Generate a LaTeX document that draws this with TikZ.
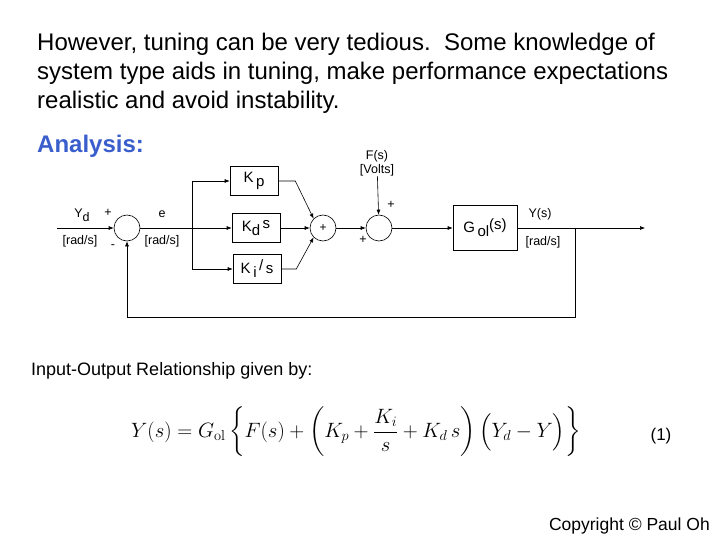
\documentclass[tikz,border=0pt]{standalone}
\usepackage{amsmath}
\usepackage[no-math]{fontspec}
\setmainfont{Liberation Sans}
\usetikzlibrary{arrows.meta, calc}
\definecolor{headblue}{HTML}{3A5FCD}
\newcommand{\lowsub}[1]{\raisebox{-4pt}{#1}}
\newcommand{\highsup}[1]{\raisebox{3pt}{#1}}

\begin{document}
\begin{tikzpicture}[
    x=1pt, y=-1pt,
    >=Latex,
    block/.style={draw, line width=0.6pt, minimum width=48pt, minimum height=29pt,
        inner sep=0pt, font=\fontsize{15}{17}\selectfont},
    sumjct/.style={draw, circle, line width=0.6pt, minimum size=26pt, inner sep=0pt,
        font=\fontsize{12}{14}\selectfont},
    sig/.style={line width=0.6pt, -{Latex[length=5pt, width=4pt]}},
    wire/.style={line width=0.6pt},
    lbl/.style={font=\fontsize{12.5}{14}\selectfont, inner sep=0pt},
    bodytext/.style={font=\fontsize{24}{28}\selectfont, anchor=base west, inner sep=0pt},
]
\useasboundingbox (0,0) rectangle (720,540);

% =============================================
% Heading text
% =============================================
\node[bodytext] (t1) at (37,51) {However, tuning can be very tedious.\ \ Some knowledge of};
\node[bodytext] (t2) at (37,80) {system type aids in tuning, make performance expectations};
\node[bodytext] (t3) at (37,109) {realistic and avoid instability.};
\node[bodytext, headblue, font=\fontsize{24}{28}\selectfont\bfseries] (ana) at (37,153) {Analysis:};

% =============================================
% Block diagram
% =============================================
% Summing junctions
\node[sumjct] (s1) at (127,228) {};
\node[sumjct] (s2) at (323,228) {+};
\node[sumjct] (s3) at (379,228) {};

% Gain blocks
\node[block] (kp) at (254,181) {K\,\lowsub{p}};
\node[block] (kd) at (256,228) {K\lowsub{d}\,\highsup{s}};
\node[block] (ki) at (257,269) {K\,\lowsub{i}\,\highsup{/}\,s};
\node[block, minimum width=64pt, minimum height=45pt] (gol) at (485,228) {G\,\lowsub{ol}\highsup{(s)}};

% Free ends and branch points
\coordinate (in) at (57,228);
\coordinate (br) at (192,228);
\coordinate (tap) at (575,228);
\coordinate (out) at (645,228);
\node[lbl, align=center] (dist) at (377,163) {F(s)\\{}[Volts]};

% Signal labels
\node[lbl] (yd) at (82,215) {Y\lowsub{d}};
\node[lbl] (yd-u) at (80,241) {[rad/s]};
\node[lbl] (p1) at (108,213) {+};
\node[lbl] (m1) at (113,247) {-};
\node[lbl] (e) at (162,214) {e};
\node[lbl] (e-u) at (162,241) {[rad/s]};
\node[lbl] (p3a) at (391,205) {+};
\node[lbl] (p3b) at (363,240) {+};
\node[lbl] (ys) at (540,214) {Y(s)};
\node[lbl] (ys-u) at (543,242) {[rad/s]};

% Connectors
\draw[sig] (in) -- (s1);
\draw[wire] (s1) -- (br);
\draw[sig] (br) -- (kd);
\draw[sig] (br) |- (kp);
\draw[sig] (br) |- (ki);
\draw[sig] (kp.east) -- ++(17,0) -- (s2.north west);
\draw[sig] (kd) -- (s2);
\draw[sig] (ki.east) -- ++(15,0) -- (s2.south west);
\draw[sig] (s2) -- (s3);
\draw[sig] (dist) -- (s3);
\draw[sig] (s3) -- (gol);
\draw[sig] (gol) -- (out);
\draw[sig] (tap) -- ++(0,89) -| (s1.south);

% =============================================
% Relationship
% =============================================
\node[font=\fontsize{18}{21}\selectfont, anchor=base west, inner sep=0pt] (io) at (31,375)
  {Input-Output Relationship given by:};
\node[font=\fontsize{20.5}{24}\selectfont, inner sep=0pt] (eq) at (356,432)
  {$Y(s)=G_{\mathrm{ol}}\left\{F(s)+\left(K_p+\dfrac{K_i}{s}+K_d\,s\right)\Bigl(Y_d-Y\Bigr)\right\}$};
\node[font=\fontsize{17}{20}\selectfont, inner sep=0pt] (eqno) at (661,436) {(1)};
\node[font=\fontsize{17.5}{20}\selectfont, anchor=base east, inner sep=0pt] (copy) at (710,530)
  {Copyright \textcopyright{} Paul Oh};

\end{tikzpicture}
\end{document}
